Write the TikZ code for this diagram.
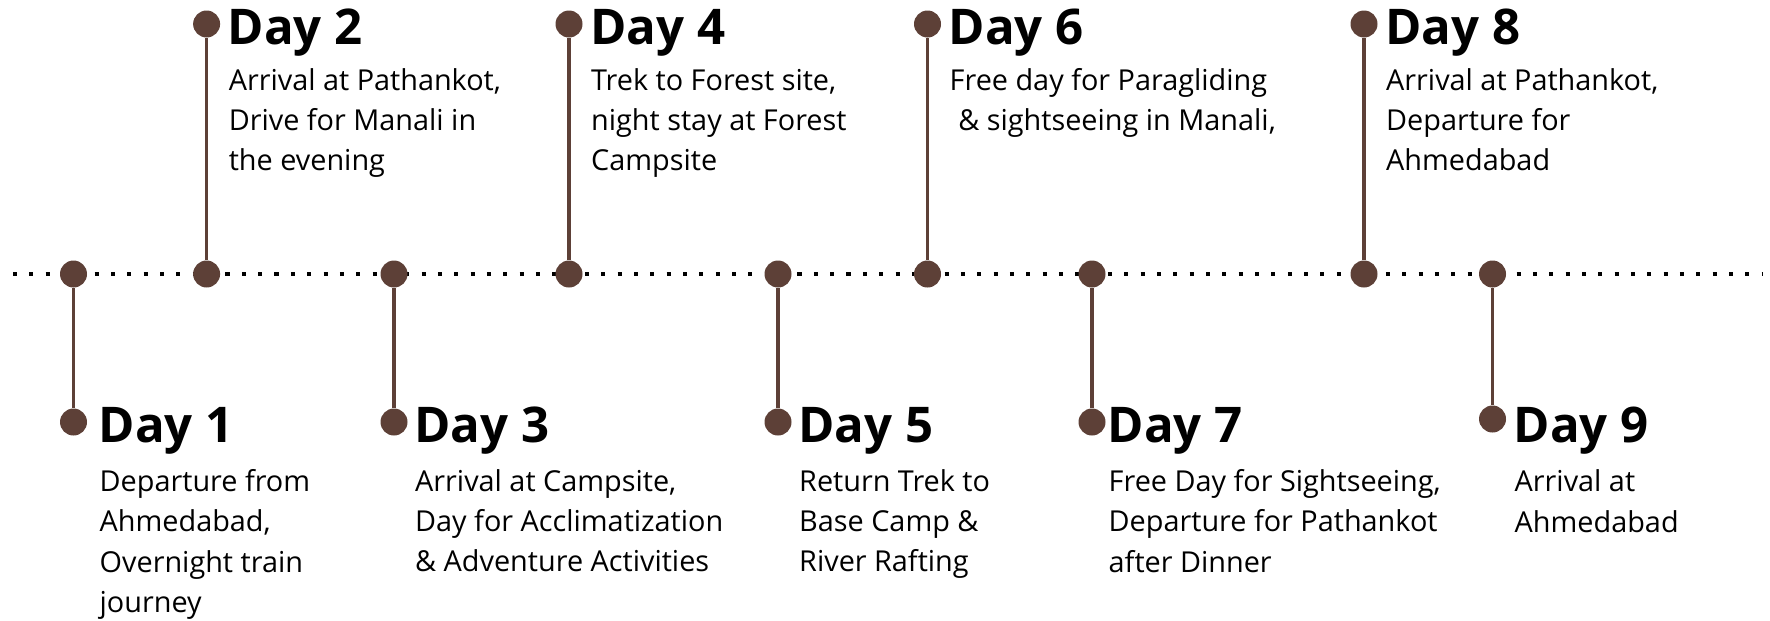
\documentclass[tikz,border=0pt]{standalone}
\usepackage{fontspec}
\setmainfont{Open Sans}
\usetikzlibrary{calc}
\definecolor{bark}{HTML}{5D4037}

\begin{document}
\begin{tikzpicture}[
    pin/.style={circle, fill=bark, inner sep=0pt, minimum size=0.27cm},
    stem/.style={bark, line width=0.9pt},
    track/.style={black, line width=1.15pt, dash pattern=on 1.15pt off 3.5pt},
    dayhead/.style={anchor=base west, inner sep=0pt, font=\fontsize{14}{16}\selectfont\bfseries},
    daytext/.style={anchor=north west, inner sep=0pt, align=left,
        font=\fontsize{8.2}{11.5}\selectfont, execute at begin node=\strut},
]
\useasboundingbox (0,-3.46) rectangle (17.7,2.74);

% =============================================
% TRACK – dotted time axis
% =============================================
\coordinate (trackL) at (0.13,0);
\coordinate (trackR) at (17.62,0);
\draw[track] (trackL) -- (trackR);

% =============================================
% PINS – axis dots, end dots and stems
% =============================================
\node[pin] (t1) at (0.735,0) {};
\node[pin] (t2) at (2.066,0) {};
\node[pin] (t3) at (3.94,0) {};
\node[pin] (t4) at (5.69,0) {};
\node[pin] (t5) at (7.78,0) {};
\node[pin] (t6) at (9.275,0) {};
\node[pin] (t7) at (10.92,0) {};
\node[pin] (t8) at (13.64,0) {};
\node[pin] (t9) at (14.925,0) {};

% Upper ends (even days)
\node[pin] (e2) at (2.066,2.50) {};
\node[pin] (e4) at (5.69,2.50) {};
\node[pin] (e6) at (9.275,2.50) {};
\node[pin] (e8) at (13.64,2.50) {};
% Lower ends (odd days)
\node[pin] (e1) at (0.735,-1.48) {};
\node[pin] (e3) at (3.94,-1.48) {};
\node[pin] (e5) at (7.78,-1.48) {};
\node[pin] (e7) at (10.92,-1.48) {};
\node[pin] (e9) at (14.925,-1.45) {};

% Stems
\draw[stem] (t1) -- (e1);
\draw[stem] (t2) -- (e2);
\draw[stem] (t3) -- (e3);
\draw[stem] (t4) -- (e4);
\draw[stem] (t5) -- (e5);
\draw[stem] (t6) -- (e6);
\draw[stem] (t7) -- (e7);
\draw[stem] (t8) -- (e8);
\draw[stem] (t9) -- (e9);

% =============================================
% UPPER LABELS
% =============================================
\node[dayhead] (h2) at ([xshift=0.205cm,yshift=-0.20cm]e2.center) {Day 2};
\node[daytext] (b2) at ([xshift=0.01cm,yshift=-0.235cm]h2.base west) {%
  Arrival at Pathankot,\\Drive for Manali in\\the evening};

\node[dayhead] (h4) at ([xshift=0.205cm,yshift=-0.20cm]e4.center) {Day 4};
\node[daytext] (b4) at ([xshift=0.01cm,yshift=-0.235cm]h4.base west) {%
  Trek to Forest site,\\night stay at Forest\\Campsite};

\node[dayhead] (h6) at ([xshift=0.205cm,yshift=-0.20cm]e6.center) {Day 6};
\node[daytext] (b6) at ([xshift=0.01cm,yshift=-0.235cm]h6.base west) {%
  Free day for Paragliding\\\hspace*{0.3em}\& sightseeing in Manali,};

\node[dayhead] (h8) at ([xshift=0.205cm,yshift=-0.20cm]e8.center) {Day 8};
\node[daytext] (b8) at ([xshift=0.01cm,yshift=-0.235cm]h8.base west) {%
  Arrival at Pathankot,\\Departure for\\Ahmedabad};

% =============================================
% LOWER LABELS
% =============================================
\node[dayhead] (h1) at ([xshift=0.245cm,yshift=-0.20cm]e1.center) {Day 1};
\node[daytext] (b1) at ([xshift=0.01cm,yshift=-0.265cm]h1.base west) {%
  Departure from\\Ahmedabad,\\Overnight train\\journey};

\node[dayhead] (h3) at ([xshift=0.195cm,yshift=-0.20cm]e3.center) {Day 3};
\node[daytext] (b3) at ([xshift=0.01cm,yshift=-0.265cm]h3.base west) {%
  Arrival at Campsite,\\Day for Acclimatization\\\& Adventure Activities};

\node[dayhead] (h5) at ([xshift=0.195cm,yshift=-0.20cm]e5.center) {Day 5};
\node[daytext] (b5) at ([xshift=0.01cm,yshift=-0.265cm]h5.base west) {%
  Return Trek to\\Base Camp \&\\River Rafting};

\node[dayhead] (h7) at ([xshift=0.15cm,yshift=-0.20cm]e7.center) {Day 7};
\node[daytext] (b7) at ([xshift=0.01cm,yshift=-0.265cm]h7.base west) {%
  Free Day for Sightseeing,\\Departure for Pathankot\\after Dinner};

\node[dayhead] (h9) at ([xshift=0.205cm,yshift=-0.235cm]e9.center) {Day 9};
\node[daytext] (b9) at ([xshift=0.01cm,yshift=-0.265cm]h9.base west) {%
  Arrival at\\Ahmedabad};

\end{tikzpicture}
\end{document}
